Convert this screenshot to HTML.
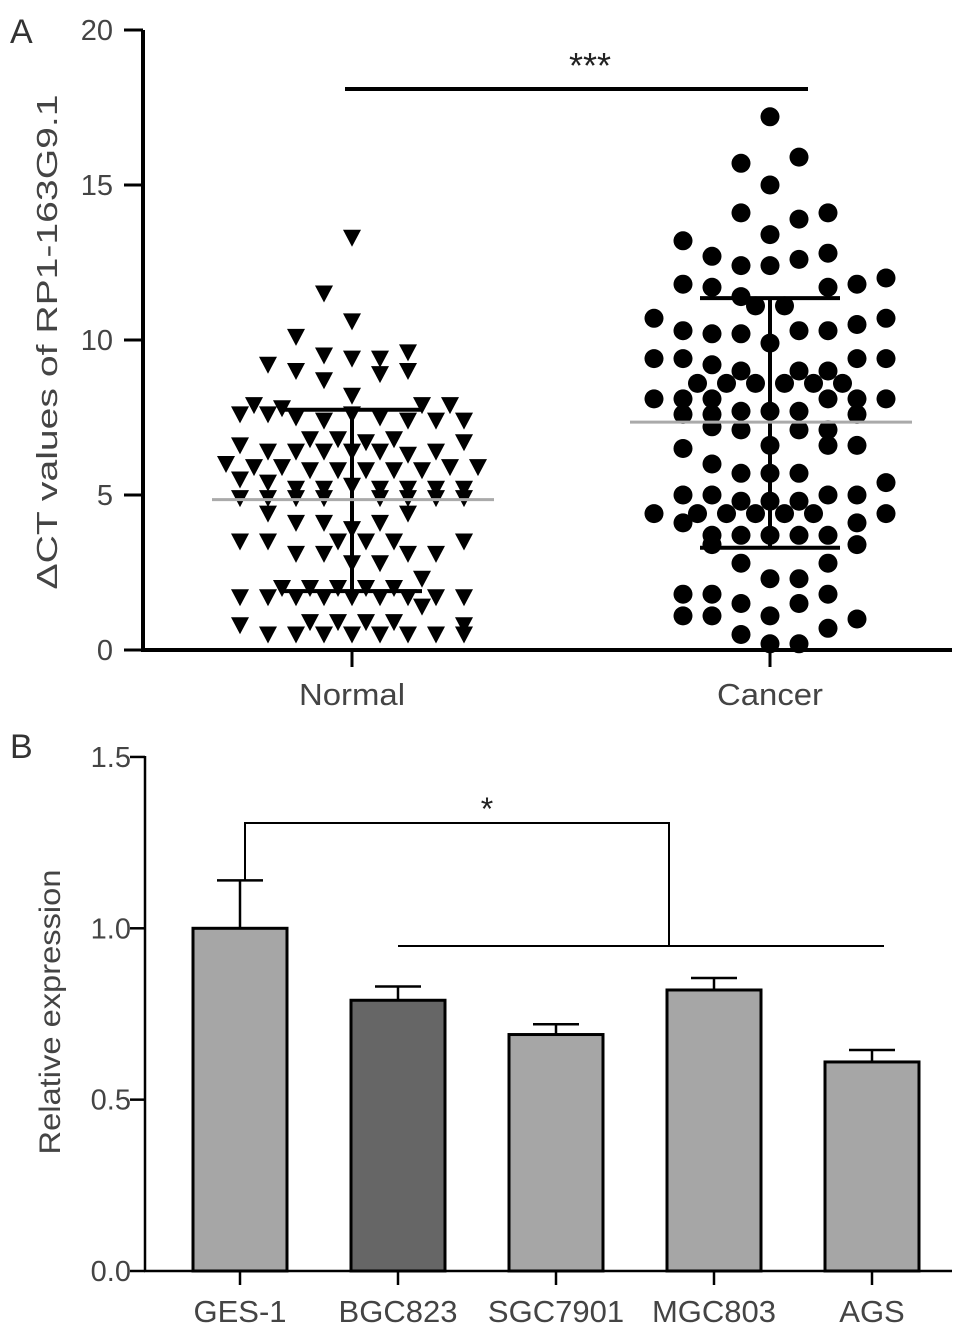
<!DOCTYPE html>
<html><head><meta charset="utf-8"><style>
html,body{margin:0;padding:0;background:#fff}
svg{display:block;font-family:"Liberation Sans",sans-serif}
</style></head><body>
<svg id="fig" width="969" height="1335" viewBox="0 0 969 1335">
<text x="10" y="43" font-size="34" fill="#333">A</text>
<text x="10" y="758" font-size="34" fill="#333">B</text>
<g id="pa"></g>
<g id="pb"></g>
</svg>
<script>
// ---- Panel A data ----
const groupsA = ["Normal", "Cancer"];
const ticksA = [0, 5, 10, 15, 20];
const normalVals = [[0,13.3],[-1,11.5],[0,10.6],[-2,10.1],
[-3,9.2],[-1,9.5],[0,9.4],[1,9.4],[2,9.6],
[-2,9.0],[-1,8.7],[1,8.9],[2,9.0],[0,8.2],
[-3.5,7.9],[-2.5,7.8],[2.5,7.9],[3.5,7.9],
[-4,7.6],[-3,7.6],[-2,7.5],[-1,7.4],[0,7.6],[1,7.5],[2,7.4],[3,7.4],[4,7.4],
[-1.5,6.8],[-0.5,6.8],[0.5,6.7],[1.5,6.8],
[-4,6.6],[-3,6.4],[-2,6.4],[-1,6.4],[0,6.4],[1,6.4],[2,6.3],[3,6.4],[4,6.7],
[-4.5,6.0],[-3.5,5.9],[-2.5,5.9],[-1.5,5.8],[-0.5,5.8],[0.5,5.8],[1.5,5.8],[2.5,5.8],[3.5,5.9],[4.5,5.9],
[-4,5.5],[-3,5.4],[-2,5.2],[-1,5.2],[0,5.3],[1,5.2],[2,5.2],[3,5.2],[4,5.2],
[-4,4.9],[-3,4.9],[-2,4.9],[-1,4.9],[1,4.9],[2,4.9],[3,4.9],[4,4.9],
[-3,4.4],[2,4.4],[-2,4.1],[-1,4.1],[1,4.1],[0,3.9],
[-4,3.5],[-3,3.5],[-0.5,3.5],[0.5,3.5],[1.5,3.5],[4,3.5],
[-2,3.1],[-1,3.1],[2,3.1],[3,3.1],[0,2.8],[1,2.8],[2.5,2.3],
[-2.5,2.0],[-1.5,2.0],[-0.5,2.0],[0.5,2.0],[1.5,2.0],
[-4,1.7],[-3,1.7],[-2,1.7],[-1,1.7],[0,1.7],[1,1.7],[2,1.7],[3,1.7],[4,1.7],
[2.5,1.4],[-1.5,0.9],[-0.5,0.9],[0.5,0.9],[1.5,0.9],[-4,0.8],[4,0.8],
[-3,0.5],[-2,0.5],[-1,0.5],[0,0.5],[1,0.5],[2,0.5],[3,0.5],[4,0.5]];
const cancerVals = [[0,17.2],[1,15.9],[-1,15.7],[0,15.0],[-1,14.1],[2,14.1],[1,13.9],[0,13.4],[-3,13.2],
[-2,12.7],[2,12.8],[1,12.6],[-1,12.4],[0,12.4],[4,12.0],[-3,11.8],[3,11.8],[-2,11.7],[2,11.7],[-1,11.4],
[-0.5,11.1],[0.5,11.1],[-4,10.7],[4,10.7],[3,10.5],[-3,10.3],[1,10.3],[2,10.3],[-2,10.2],[-1,10.2],[0,9.9],
[-4,9.4],[-3,9.4],[3,9.4],[4,9.4],[-2,9.2],[-1,9.0],[1,9.0],[2,9.0],
[-2.5,8.6],[-1.5,8.6],[-0.5,8.6],[0.5,8.6],[1.5,8.6],[2.5,8.6],
[-4,8.1],[-3,8.1],[-2,8.1],[2,8.1],[3,8.1],[4,8.1],[-1,7.7],[0,7.7],[1,7.7],[-3,7.6],[-2,7.6],[3,7.6],
[-1,7.1],[1,7.1],[2,7.1],[-2,7.2],[0,6.6],[2,6.6],[3,6.6],[-3,6.5],[-2,6.0],[-1,5.7],[0,5.7],[1,5.7],[4,5.4],
[-3,5.0],[-2,5.0],[2,5.0],[3,5.0],[-1,4.8],[0,4.8],[1,4.8],
[-4,4.4],[-2.5,4.4],[-1.5,4.4],[-0.5,4.4],[0.5,4.4],[1.5,4.4],[4,4.4],[-3,4.1],[3,4.1],
[-2,3.7],[-1,3.7],[0,3.7],[1,3.7],[2,3.7],[-2,3.4],[3,3.4],[-1,2.8],[2,2.8],[0,2.3],[1,2.3],
[-3,1.8],[-2,1.8],[2,1.8],[-1,1.5],[1,1.5],[-3,1.1],[-2,1.1],[0,1.1],[3,1.0],[2,0.7],[-1,0.5],[0,0.2],[1,0.2]];
const meansA = [4.85, 7.35];
const sdLowA = [1.9, 3.3];
const sdHighA = [7.75, 11.35];

// ---- Panel B data ----
const cellLines = ["GES-1", "BGC823", "SGC7901", "MGC803", "AGS"];
const exprVals = [1.0, 0.79, 0.69, 0.82, 0.61];
const exprErr = [0.14, 0.04, 0.03, 0.035, 0.035];
const ticksB = [0.0, 0.5, 1.0, 1.5];
const tickLabelsB = ["0.0", "0.5", "1.0", "1.5"];

const NS = "http://www.w3.org/2000/svg";
function mk(parent, tag, attrs){const e=document.createElementNS(NS,tag);for(const k in attrs)e.setAttribute(k,attrs[k]);parent.appendChild(e);return e;}

// Panel A
const pa = document.getElementById('pa');
const yA = v => 650 - v * 31;
const xA = i => [352, 770][i];
const colW = [28, 29];
mk(pa,'line',{x1:143,y1:30,x2:143,y2:652,stroke:'#000','stroke-width':4});
mk(pa,'line',{x1:141,y1:650,x2:952,y2:650,stroke:'#000','stroke-width':4});
ticksA.forEach(t=>{
  let l=mk(pa,'line',{x1:124,y1:yA(t),x2:143,y2:yA(t),stroke:'#000','stroke-width':3});
  
  
  let tx=mk(pa,'text',{x:113,y:yA(t)+10,'font-size':29,fill:'#444','text-anchor':'end'});
  tx.textContent=t;
  
  
});
groupsA.forEach((g,i)=>{
  mk(pa,'line',{x1:xA(i),y1:650,x2:xA(i),y2:667,stroke:'#000','stroke-width':3});
  let tx=mk(pa,'text',{x:xA(i),y:705,'font-size':31,fill:'#444','text-anchor':'middle',textLength:106,lengthAdjust:'spacingAndGlyphs'});
  tx.textContent=g;
  
  
});
let yl=mk(pa,'text',{x:0,y:0,'font-size':29,fill:'#444','text-anchor':'middle',textLength:495,lengthAdjust:'spacingAndGlyphs',transform:'translate(57,342) rotate(-90)'});
yl.textContent='ΔCT values of RP1-163G9.1';


normalVals.forEach(p=>{
  const cx=xA(0)+p[0]*colW[0], cy=yA(p[1]);
  let t=mk(pa,'polygon',{points:`${cx-9},${cy-8} ${cx+9},${cy-8} ${cx},${cy+9}`,fill:'#000'});
  
  
});
cancerVals.forEach(p=>{
  let c=mk(pa,'circle',{cx:xA(1)+p[0]*colW[1],cy:yA(p[1]),r:9.5,fill:'#000'});
  
  
});
groupsA.forEach((g,i)=>{
  const x=xA(i);
  mk(pa,'line',{x1:x,y1:yA(sdLowA[i]),x2:x,y2:yA(sdHighA[i]),stroke:'#000','stroke-width':4});
  mk(pa,'line',{x1:x-70,y1:yA(sdLowA[i]),x2:x+70,y2:yA(sdLowA[i]),stroke:'#000','stroke-width':4});
  mk(pa,'line',{x1:x-70,y1:yA(sdHighA[i]),x2:x+70,y2:yA(sdHighA[i]),stroke:'#000','stroke-width':4});
  let m=mk(pa,'line',{x1:x-140,y1:yA(meansA[i]),x2:x+142,y2:yA(meansA[i]),stroke:'#aaa','stroke-width':3});
  
  
});
mk(pa,'line',{x1:345,y1:89,x2:808,y2:89,stroke:'#000','stroke-width':4});
let st=mk(pa,'text',{x:590,y:78,'font-size':36,fill:'#222','text-anchor':'middle'});
st.textContent='***';



// Panel B
const pb=document.getElementById('pb');
const yB=v=>1271-v*342.7;
const xB=i=>240+i*158;
ticksB.forEach((t,i)=>{
  mk(pb,'line',{x1:130,y1:yB(t),x2:145,y2:yB(t),stroke:'#000','stroke-width':2.5});
  let tx=mk(pb,'text',{x:131,y:yB(t)+10,'font-size':29,fill:'#444','text-anchor':'end'});
  tx.textContent=tickLabelsB[i];
  
  
});
let yl2=mk(pb,'text',{x:0,y:0,'font-size':30,fill:'#444','text-anchor':'middle',textLength:285,lengthAdjust:'spacingAndGlyphs',transform:'translate(60,1012) rotate(-90)'});
yl2.textContent='Relative expression';


cellLines.forEach((c,i)=>{
  const x=xB(i);
  mk(pb,'line',{x1:x,y1:yB(exprVals[i]),x2:x,y2:yB(exprVals[i]+exprErr[i]),stroke:'#000','stroke-width':2.5});
  mk(pb,'line',{x1:x-23,y1:yB(exprVals[i]+exprErr[i]),x2:x+23,y2:yB(exprVals[i]+exprErr[i]),stroke:'#000','stroke-width':2.5});
  let r=mk(pb,'rect',{x:x-47,y:yB(exprVals[i]),width:94,height:yB(0)-yB(exprVals[i]),fill:i===1?'#666':'#a6a6a6',stroke:'#000','stroke-width':3});
  
  
  mk(pb,'line',{x1:x,y1:1271,x2:x,y2:1285,stroke:'#000','stroke-width':2.5});
  let tx=mk(pb,'text',{x:x,y:1322,'font-size':31,fill:'#444','text-anchor':'middle'});
  tx.textContent=c;
  
  
});
mk(pb,'line',{x1:145,y1:756,x2:145,y2:1272,stroke:'#000','stroke-width':2.5});
mk(pb,'line',{x1:144,y1:1271,x2:952,y2:1271,stroke:'#000','stroke-width':2.5});
mk(pb,'polyline',{points:'245,881 245,823 669,823 669,946',fill:'none',stroke:'#000','stroke-width':2});
mk(pb,'line',{x1:398,y1:946,x2:884,y2:946,stroke:'#000','stroke-width':2});
let s2=mk(pb,'text',{x:487,y:820,'font-size':32,fill:'#222','text-anchor':'middle'});
s2.textContent='*';


</script>
</body></html>
